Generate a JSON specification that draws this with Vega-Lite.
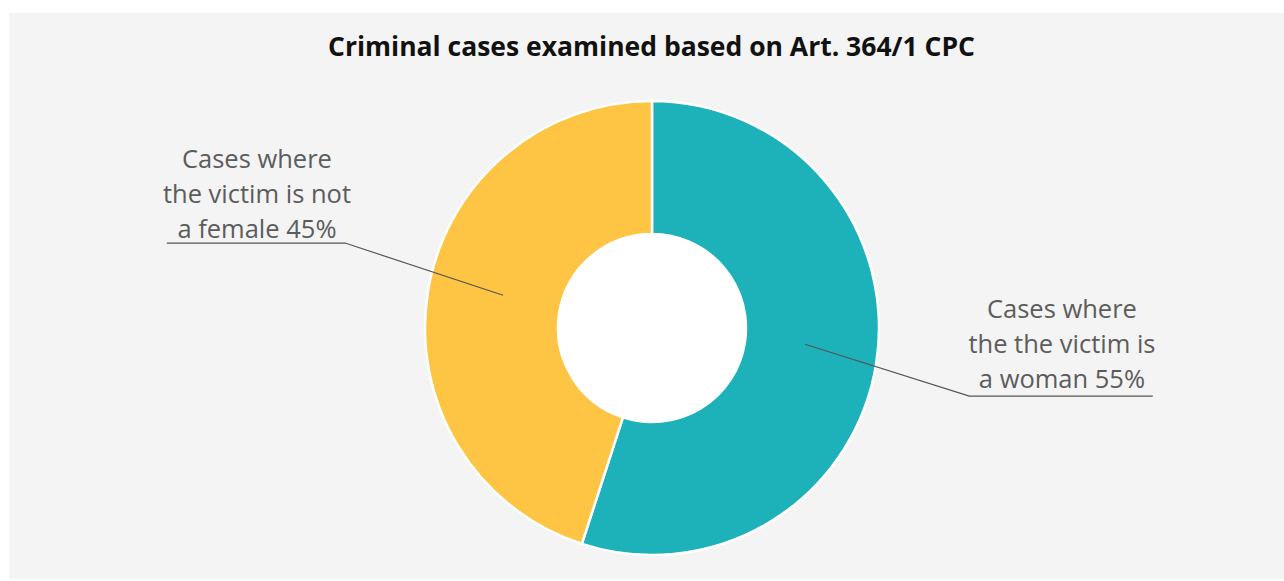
{
  "$schema": "https://vega.github.io/schema/vega-lite/v6.json",
  "width": 1284,
  "height": 581,
  "autosize": {"type": "fit", "contains": "padding"},
  "padding": {"left": 9, "top": 13, "right": 0, "bottom": 2},
  "background": "#ffffff",
  "config": {"view": {"fill": "#f4f4f4", "stroke": null}, "font": "Open Sans"},
  "title": {
    "text": "Criminal cases examined based on Art. 364/1 CPC",
    "fontSize": 26.5,
    "fontWeight": "bold",
    "font": "Open Sans",
    "color": "#111111",
    "anchor": "middle",
    "offset": -69,
    "baseline": "alphabetic",
    "dx": 5
  },
  "datasets": {
    "cases": [
      {"category": "Cases where the the victim is a woman", "value": 55},
      {"category": "Cases where the victim is not a female", "value": 45}
    ],
    "leaders": [
      {"slice": "not female", "pt": 1, "x": -0.659, "y": 0.145},
      {"slice": "not female", "pt": 2, "x": -1.358, "y": 0.376},
      {"slice": "not female", "pt": 3, "x": -2.147, "y": 0.376},
      {"slice": "woman", "pt": 1, "x": 0.677, "y": -0.072},
      {"slice": "woman", "pt": 2, "x": 1.404, "y": -0.301},
      {"slice": "woman", "pt": 3, "x": 2.216, "y": -0.301}
    ],
    "labels": [
      {"slice": "not female", "text": "Cases where\nthe victim is not\na female 45%", "x": -1.748, "y": 0.708},
      {"slice": "woman", "text": "Cases where\nthe the victim is\na woman 55%", "x": 1.814, "y": 0.0456}
    ]
  },
  "layer": [
    {
      "data": {"name": "cases"},
      "mark": {"type": "arc", "outerRadius": 227, "innerRadius": 94, "stroke": "#ffffff", "strokeWidth": 2.5},
      "encoding": {
        "theta": {"field": "value", "type": "quantitative", "stack": true},
        "order": {"field": "value", "type": "quantitative", "sort": "descending"},
        "color": {
          "field": "category",
          "type": "nominal",
          "scale": {"domain": ["Cases where the the victim is a woman", "Cases where the victim is not a female"], "range": ["#1db2b9", "#fec544"]},
          "legend": null
        },
        "x": {"datum": 0, "type": "quantitative", "scale": {"domain": [-2.8451, 2.7965], "nice": false, "zero": false}, "axis": null},
        "y": {"datum": 0, "type": "quantitative", "scale": {"domain": [-1.1106, 1.3938], "nice": false, "zero": false}, "axis": null}
      }
    },
    {
      "data": {"values": [{"part": "hole"}]},
      "mark": {"type": "point", "filled": true, "color": "#ffffff", "opacity": 1, "size": 35800, "strokeWidth": 0, "shape": "circle"},
      "encoding": {
        "x": {"datum": 0, "type": "quantitative", "scale": {"domain": [-2.8451, 2.7965], "nice": false, "zero": false}, "axis": null},
        "y": {"datum": 0, "type": "quantitative", "scale": {"domain": [-1.1106, 1.3938], "nice": false, "zero": false}, "axis": null}
      }
    },
    {
      "data": {"name": "leaders"},
      "mark": {"type": "line", "color": "#555555", "strokeWidth": 1.2},
      "encoding": {
        "detail": {"field": "slice", "type": "nominal"},
        "order": {"field": "pt", "type": "quantitative"},
        "x": {"field": "x", "type": "quantitative", "scale": {"domain": [-2.8451, 2.7965], "nice": false, "zero": false}, "axis": null},
        "y": {"field": "y", "type": "quantitative", "scale": {"domain": [-1.1106, 1.3938], "nice": false, "zero": false}, "axis": null}
      }
    },
    {
      "data": {"name": "labels"},
      "mark": {"type": "text", "lineBreak": "\n", "lineHeight": 35, "fontSize": 25.5, "font": "Open Sans", "color": "#5c5c5c", "align": "center", "baseline": "alphabetic"},
      "encoding": {
        "text": {"field": "text", "type": "nominal"},
        "x": {"field": "x", "type": "quantitative", "scale": {"domain": [-2.8451, 2.7965], "nice": false, "zero": false}, "axis": null},
        "y": {"field": "y", "type": "quantitative", "scale": {"domain": [-1.1106, 1.3938], "nice": false, "zero": false}, "axis": null}
      }
    }
  ]
}
